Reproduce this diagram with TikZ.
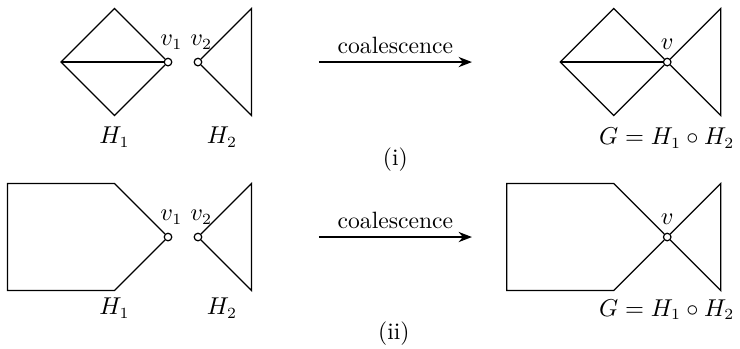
\documentclass[tikz,border=0pt]{standalone}
\usepackage{amsmath,amssymb}
\usepackage{tikz}
\usetikzlibrary{arrows.meta,positioning}

\begin{document}
\begin{tikzpicture}[x=0.845cm, y=0.845cm, line width=0.55pt,
    every node/.style={font=\fontsize{10.6pt}{12.7pt}\selectfont},
    vtx/.style={circle, draw, fill=white, inner sep=0pt, minimum size=3.4pt},
    vlab/.style={label={[xshift=1.5pt]above:#1}},
    arr/.style={-{Stealth[length=6pt,width=4.6pt]}, line width=0.65pt}
]
\useasboundingbox (-3.14,1.16) rectangle (10.69,-5.36);

% (i) two graphs before coalescence
\coordinate (a1) at (-2,0);
\coordinate (a2) at (-1,1);
\coordinate (a3) at (-1,-1);
\node[vtx, vlab=$v_1$] (v1) at (0,0) {};
\node[vtx, vlab=$v_2$] (v2) at (0.56,0) {};
\coordinate (b1) at (1.56,1);
\coordinate (b2) at (1.56,-1);
\draw (v1) -- (a2) -- (a1) -- (a3) -- (v1);
\draw (a1) -- (v1);
\draw (v2) -- (b1) -- (b2) -- (v2);
\node (h1) at (-1,-1.4) {$H_1$};
\node (h2) at (1.01,-1.4) {$H_2$};

% (i) after
\coordinate (c1) at (7.33,0);
\coordinate (c2) at (8.33,1);
\coordinate (c3) at (8.33,-1);
\node[vtx, label=above:$v$] (v) at (9.33,0) {};
\coordinate (d1) at (10.33,1);
\coordinate (d2) at (10.33,-1);
\draw (v) -- (c2) -- (c1) -- (c3) -- (v);
\draw (c1) -- (v);
\draw (v) -- (d1) -- (d2) -- (v);
\node (g) at (9.32,-1.42) {$G = H_1 \circ H_2$};

\coordinate (p1) at (2.82,0);
\coordinate (p2) at (5.68,0);
\draw[arr] (p1) -- node[above] {coalescence} (p2);
\node (ci) at (4.25,-1.83) {(i)};

% (ii) two graphs before coalescence
\coordinate (e1) at (-3,-2.27);
\coordinate (e2) at (-1,-2.27);
\coordinate (e3) at (-1,-4.27);
\coordinate (e4) at (-3,-4.27);
\node[vtx, vlab=$v_1$] (w1) at (0,-3.27) {};
\node[vtx, vlab=$v_2$] (w2) at (0.56,-3.27) {};
\coordinate (f1) at (1.56,-2.27);
\coordinate (f2) at (1.56,-4.27);
\draw (w1) -- (e2) -- (e1) -- (e4) -- (e3) -- (w1);
\draw (w2) -- (f1) -- (f2) -- (w2);
\node (k1) at (-1,-4.6) {$H_1$};
\node (k2) at (1.01,-4.6) {$H_2$};

% (ii) after
\coordinate (m1) at (6.33,-2.27);
\coordinate (m2) at (8.33,-2.27);
\coordinate (m3) at (8.33,-4.27);
\coordinate (m4) at (6.33,-4.27);
\node[vtx, label=above:$v$] (w) at (9.33,-3.27) {};
\coordinate (n1) at (10.33,-2.27);
\coordinate (n2) at (10.33,-4.27);
\draw (w) -- (m2) -- (m1) -- (m4) -- (m3) -- (w);
\draw (w) -- (n1) -- (n2) -- (w);
\node (g2) at (9.32,-4.63) {$G = H_1 \circ H_2$};

\coordinate (q1) at (2.82,-3.27);
\coordinate (q2) at (5.68,-3.27);
\draw[arr] (q1) -- node[above] {coalescence} (q2);
\node (cii) at (4.22,-5.07) {(ii)};
\end{tikzpicture}
\end{document}
